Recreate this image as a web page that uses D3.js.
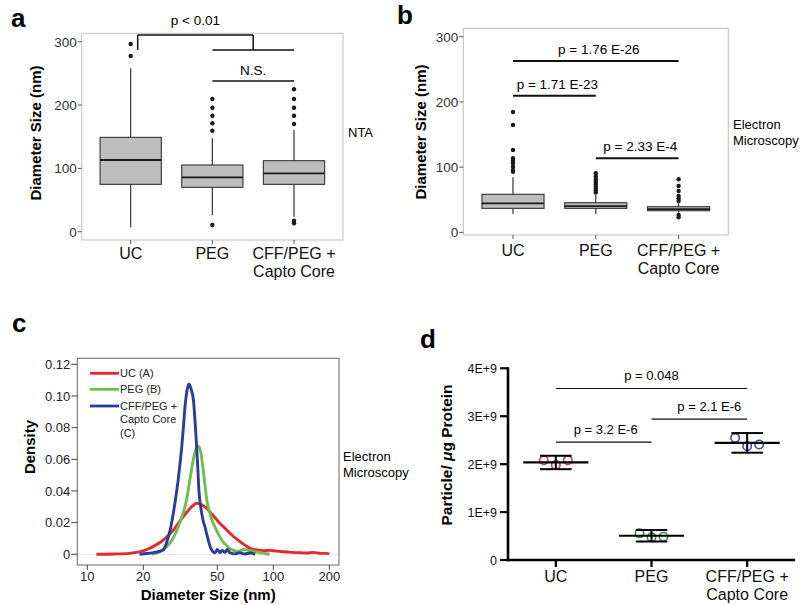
<!DOCTYPE html>
<html><head><meta charset="utf-8">
<script src="https://cdn.jsdelivr.net/npm/d3@7"></script>
<style>
body{margin:0;background:#fff}
svg{display:block;font-family:"Liberation Sans",Arial,Helvetica,sans-serif}
</style>
</head><body><svg id="fig" width="800" height="605"></svg>
<script>
// ---------------- data ----------------
const categories = ["UC", "PEG", "CFF/PEG + Capto Core"];
const categoryLines = [["UC"], ["PEG"], ["CFF/PEG +", "Capto Core"]];

// panel a (NTA) box statistics, nm
const ntaQ1 = [74.8, 70.1, 74.8];
const ntaMedian = [113.2, 85.9, 92.2];
const ntaQ3 = [149, 105.3, 112.1];
const ntaWhiskerLow = [7, 26, 23.7];
const ntaWhiskerHigh = [258, 147.5, 160.6];
const ntaOutliers = [[296.4, 277.4], [209.5, 195.8, 183.2, 171.2, 159.5, 10.6], [224.9, 209.5, 195.8, 183.2, 170, 17.4, 13.3]];
const ntaTicks = [0, 100, 200, 300];

// panel b (electron microscopy) box statistics, nm
const emQ1 = [36.8, 36.8, 33.1];
const emMedian = [44.5, 40.3, 35.7];
const emQ3 = [58.3, 45.4, 39.3];
const emWhiskerLow = [28, 28, 30];
const emWhiskerHigh = [84.4, 57.2, 44.5];
const emOutliers = [[184.5, 164.6, 126.2, 113.5, 109.8, 106, 100.6, 95.6, 93], [90.5, 86, 82, 79, 76, 73, 70, 67, 64, 61], [81.3, 71, 63.3, 55.7, 52, 48, 26.5, 23]];
const emTicks = [0, 100, 200, 300];
const emBrackets = [
  {from: 0, to: 2, y: 262.7, label: "p = 1.76 E-26"},
  {from: 0, to: 1, y: 209.5, label: "p = 1.71 E-23"},
  {from: 1, to: 2, y: 113.5, label: "p = 2.33 E-4"}
];

// panel c density curves (x in nm, log axis)
const densitySeries = ["UC (A)", "PEG (B)", "CFF/PEG + Capto Core (C)"];
const ucX = [11.2, 14, 16.9, 19, 21.7, 23.5, 25.6, 27.3, 29, 31, 32.8, 34.6, 36.4, 38.7, 41.2, 43.5, 45.6, 48.5, 51.6, 55, 58.5, 62, 66.2, 70.4, 74.9, 80, 88.4, 95, 104, 113, 125, 139.5, 152, 164, 180, 194, 200];
const ucY = [0, 0.0002, 0.0006, 0.0015, 0.0038, 0.006, 0.009, 0.012, 0.0153, 0.0198, 0.0238, 0.0272, 0.030, 0.0322, 0.0313, 0.0295, 0.0269, 0.0232, 0.0196, 0.0165, 0.0133, 0.0106, 0.008, 0.0058, 0.0038, 0.003, 0.0023, 0.0025, 0.002, 0.0016, 0.0012, 0.001, 0.0008, 0.0012, 0.0006, 0.0006, 0.0002];
const pegX = [22.2, 23.5, 24.6, 26.2, 27.8, 29.3, 30.8, 32.2, 33.5, 34.6, 35.6, 36.5, 37.4, 38.3, 39.2, 40.0, 40.7, 41.5, 42.4, 43.2, 43.9, 45.6, 47, 48.5, 50, 51.6, 53.9, 56.1, 58.5, 60.9, 63.7, 66.2, 69, 72, 74.9, 80, 84.5, 90, 95.5];
const pegY = [0, 0.0008, 0.0017, 0.004, 0.007, 0.0115, 0.0174, 0.0235, 0.030, 0.038, 0.047, 0.055, 0.0617, 0.066, 0.0684, 0.0675, 0.0648, 0.058, 0.049, 0.041, 0.0343, 0.026, 0.021, 0.0174, 0.014, 0.011, 0.0075, 0.0055, 0.0035, 0.0025, 0.002, 0.0022, 0.003, 0.0028, 0.0023, 0.0015, 0.001, 0.0005, 0];
const cffX = [19.1, 21, 23, 25.6, 26.8, 27.9, 29.0, 30.0, 30.8, 31.5, 32.2, 32.9, 33.5, 34.3, 35.2, 36.2, 37.2, 38.0, 38.7, 39.3, 39.8, 40.5, 41.2, 42.0, 42.9, 43.8, 44.7, 45.7, 46.7, 48, 49, 50, 51.7, 53, 55, 56.5, 58.5, 62, 66, 70, 75, 79.8];
const cffY = [0, 0.0005, 0.0012, 0.0027, 0.008, 0.0154, 0.026, 0.037, 0.047, 0.057, 0.068, 0.081, 0.093, 0.103, 0.1076, 0.104, 0.0975, 0.083, 0.068, 0.054, 0.0406, 0.032, 0.026, 0.021, 0.0174, 0.013, 0.009, 0.005, 0.0027, 0.001, 0.0015, 0.003, 0.001, 0.0025, 0.0012, 0.003, 0.001, 0.0003, 0.001, 0.0002, 0.0008, 0];
const densityYTicks = [0, 0.02, 0.04, 0.06, 0.08, 0.10, 0.12];
const densityXTicks = [10, 20, 50, 100, 200];

// panel d particles per ug protein
const particleReplicates = [[2.08e9, 1.98e9, 2.08e9], [0.556e9, 0.473e9, 0.485e9], [2.548e9, 2.375e9, 2.41e9]];
const particleMean = [2.035e9, 0.506e9, 2.444e9];
const particleSD = [0.14e9, 0.12e9, 0.205e9];
const particleTicks = [0, 1e9, 2e9, 3e9, 4e9];
const particleBrackets = [
  {from: 0, to: 2, y: 3.58e9, label: "p = 0.048"},
  {from: 1, to: 2, y: 2.94e9, label: "p = 2.1 E-6"},
  {from: 0, to: 1, y: 2.46e9, label: "p = 3.2 E-6"}
];

// ---------------- drawing ----------------
const svg = d3.select("#fig");
svg.append("rect").attr("width", 800).attr("height", 605).attr("fill", "#fff");

function panelLetter(t, x, y) {
  svg.append("text").attr("x", x).attr("y", y).attr("font-size", 26).attr("font-weight", "bold").text(t);
}
function rotLabel(t, x, y, size) {
  svg.append("text").attr("transform", `translate(${x},${y}) rotate(-90)`)
    .attr("text-anchor", "middle").attr("font-size", size).attr("font-weight", "bold").text(t);
}
function catLabels(xs, baseline, size) {
  categories.forEach((c, i) => {
    const t = svg.append("text").attr("x", xs(c)).attr("y", baseline).attr("text-anchor", "middle")
      .attr("font-size", size).attr("fill", "#111");
    categoryLines[i].forEach((ln, j) => t.append("tspan").attr("x", xs(c)).attr("dy", j === 0 ? 0 : 18).text(ln));
  });
}

function boxPanel(cfg) {
  const {x, y, q1, med, q3, wl, wh, out, ticks} = cfg;
  const g = svg.append("g");
  const [x0, x1] = x.range();
  const [yb, yt] = y.range();
  g.append("rect").attr("x", x0).attr("y", yt).attr("width", x1 - x0).attr("height", yb - yt)
    .attr("fill", "none").attr("stroke", "#bdbdbd").attr("stroke-width", 1);
  ticks.forEach(t => {
    g.append("line").attr("x1", x0 - 4).attr("x2", x0).attr("y1", y(t)).attr("y2", y(t)).attr("stroke", "#555");
    g.append("text").attr("x", x0 - 5).attr("y", y(t)).attr("dy", "0.36em").attr("text-anchor", "end")
      .attr("font-size", 13.5).attr("fill", "#333").text(t);
  });
  categories.forEach(c => {
    g.append("line").attr("x1", x(c)).attr("x2", x(c)).attr("y1", yb).attr("y2", yb + 4).attr("stroke", "#555");
  });
  const bw = x.step() * 0.75;
  categories.forEach((c, i) => {
    const cx = x(c);
    g.append("line").attr("x1", cx).attr("x2", cx).attr("y1", y(wl[i])).attr("y2", y(q1[i])).attr("stroke", "#333").attr("stroke-width", 1.2);
    g.append("line").attr("x1", cx).attr("x2", cx).attr("y1", y(q3[i])).attr("y2", y(wh[i])).attr("stroke", "#333").attr("stroke-width", 1.2);
    g.append("rect").attr("x", cx - bw / 2).attr("width", bw).attr("y", y(q3[i])).attr("height", y(q1[i]) - y(q3[i]))
      .attr("fill", "#bebebe").attr("stroke", "#333").attr("stroke-width", 1.1);
    g.append("line").attr("x1", cx - bw / 2).attr("x2", cx + bw / 2).attr("y1", y(med[i])).attr("y2", y(med[i]))
      .attr("stroke", "#1a1a1a").attr("stroke-width", 1.8);
    out[i].forEach(v => g.append("circle").attr("cx", cx).attr("cy", y(v)).attr("r", 2.2).attr("fill", "#1a1a1a"));
  });
  return g;
}

// ---- panel a ----
const xA = d3.scalePoint().domain(categories).range([81.7, 343]).padding(0.6);
const yA = d3.scaleLinear().domain([-13.1, 313.3]).range([240, 33.3]);
const gA = boxPanel({x: xA, y: yA, q1: ntaQ1, med: ntaMedian, q3: ntaQ3, wl: ntaWhiskerLow, wh: ntaWhiskerHigh, out: ntaOutliers, ticks: ntaTicks});
{
  const left = xA(categories[0]) + 7;
  const mid = (xA(categories[1]) + xA(categories[2])) / 2;
  const yTop = yA(310.6), yLow = yA(287), yNS = yA(238);
  const br = [[left, yLow, left, yTop], [left, yTop, mid, yTop], [mid, yTop, mid, yLow],
              [xA(categories[1]), yLow, xA(categories[2]), yLow], [xA(categories[1]), yNS, xA(categories[2]), yNS]];
  br.forEach(l => gA.append("line").attr("x1", l[0]).attr("y1", l[1]).attr("x2", l[2]).attr("y2", l[3])
    .attr("stroke", "#111").attr("stroke-width", 1.5));
  gA.append("text").attr("x", (left + mid) / 2).attr("y", yTop - 10).attr("text-anchor", "middle").attr("font-size", 13.5).text("p < 0.01");
  gA.append("text").attr("x", mid).attr("y", yNS - 6).attr("text-anchor", "middle").attr("font-size", 13.5).text("N.S.");
}
catLabels(xA, 259, 16);
rotLabel("Diameter Size (nm)", 41, 133, 15);
svg.append("text").attr("x", 348).attr("y", 137).attr("font-size", 13).text("NTA");
panelLetter("a", 11, 27);

// ---- panel b ----
const xB = d3.scalePoint().domain(categories).range([463.3, 728.3]).padding(0.6);
const yB = d3.scaleLinear().domain([-4.1, 312.9]).range([235, 28.3]);
const gB = boxPanel({x: xB, y: yB, q1: emQ1, med: emMedian, q3: emQ3, wl: emWhiskerLow, wh: emWhiskerHigh, out: emOutliers, ticks: emTicks});
emBrackets.forEach(b => {
  const xa = xB(categories[b.from]), xb = xB(categories[b.to]);
  gB.append("line").attr("x1", xa).attr("x2", xb).attr("y1", yB(b.y)).attr("y2", yB(b.y)).attr("stroke", "#111").attr("stroke-width", 2);
  gB.append("text").attr("x", (xa + xb) / 2 + 3).attr("y", yB(b.y) - 7).attr("text-anchor", "middle").attr("font-size", 13.5).text(b.label);
});
catLabels(xB, 256, 16);
rotLabel("Diameter Size (nm)", 426, 132, 15);
svg.append("text").attr("x", 733).attr("y", 129).attr("font-size", 13).text("Electron");
svg.append("text").attr("x", 733).attr("y", 145).attr("font-size", 13).text("Microscopy");
panelLetter("b", 397, 24);

// ---- panel c ----
const xC = d3.scaleLog().domain([10, 200]).range([87.3, 329.3]);
const yC = d3.scaleLinear().domain([0, 0.12]).range([554.3, 364.3]);
const frameC = {x0: 77.3, x1: 339, y0: 358.3, y1: 565};
const gC = svg.append("g");
gC.append("line").attr("x1", frameC.x0).attr("x2", frameC.x1).attr("y1", yC(0)).attr("y2", yC(0)).attr("stroke", "#e6e6e6");
gC.append("rect").attr("x", frameC.x0).attr("y", frameC.y0).attr("width", frameC.x1 - frameC.x0).attr("height", frameC.y1 - frameC.y0)
  .attr("fill", "none").attr("stroke", "#666").attr("stroke-width", 1);
densityYTicks.forEach(t => {
  gC.append("line").attr("x1", frameC.x0 - 6).attr("x2", frameC.x0).attr("y1", yC(t)).attr("y2", yC(t)).attr("stroke", "#444");
  gC.append("text").attr("x", frameC.x0 - 7).attr("y", yC(t)).attr("dy", "0.36em").attr("text-anchor", "end").attr("font-size", 13)
    .attr("fill", "#222").text(t === 0 ? "0" : d3.format(".2f")(t));
});
densityXTicks.forEach(t => {
  gC.append("line").attr("x1", xC(t)).attr("x2", xC(t)).attr("y1", frameC.y1).attr("y2", frameC.y1 + 5).attr("stroke", "#444");
  gC.append("text").attr("x", xC(t)).attr("y", 580.5).attr("text-anchor", "middle").attr("font-size", 13).attr("fill", "#222").text(t);
});
const densityColors = ["#e8262d", "#6cc04a", "#2b3d9a"];
const densityData = [[ucX, ucY], [pegX, pegY], [cffX, cffY]];
const lineGen = d3.line().x(d => xC(d[0])).y(d => yC(d[1])).curve(d3.curveMonotoneX);
densityData.forEach((s, i) => {
  const pts = s[0].map((v, k) => [v, s[1][k]]);
  gC.append("path").attr("d", lineGen(pts)).attr("fill", "none").attr("stroke", densityColors[i])
    .attr("stroke-width", 2.9).attr("stroke-linejoin", "round");
});
const legendLines = [["UC (A)"], ["PEG (B)"], ["CFF/PEG +", "Capto Core", "(C)"]];
const legendY = [373.3, 389.3, 406];
legendLines.forEach((ls, i) => {
  gC.append("line").attr("x1", 90).attr("x2", 119).attr("y1", legendY[i]).attr("y2", legendY[i]).attr("stroke", densityColors[i]).attr("stroke-width", 2.8);
  ls.forEach((t, j) => gC.append("text").attr("x", 120).attr("y", legendY[i] + j * 13.3).attr("dy", "0.36em").attr("font-size", 11).attr("fill", "#222").text(t));
});
rotLabel("Density", 35, 447, 15);
svg.append("text").attr("x", (frameC.x0 + frameC.x1) / 2).attr("y", 600).attr("text-anchor", "middle")
  .attr("font-size", 15).attr("font-weight", "bold").text("Diameter Size (nm)");
svg.append("text").attr("x", 343).attr("y", 461).attr("font-size", 13).text("Electron");
svg.append("text").attr("x", 343).attr("y", 477).attr("font-size", 13).text("Microscopy");
panelLetter("c", 12, 332);

// ---- panel d ----
const xD = d3.scalePoint().domain(categories).range([508, 795]).padding(0.5);
const yD = d3.scaleLinear().domain([0, 4e9]).range([560, 368.3]);
const gD = svg.append("g");
gD.append("line").attr("x1", 508).attr("x2", 508).attr("y1", yD(4e9) - 1).attr("y2", yD(0) + 1.2).attr("stroke", "#000").attr("stroke-width", 2.6);
gD.append("line").attr("x1", 506.7).attr("x2", 795).attr("y1", yD(0)).attr("y2", yD(0)).attr("stroke", "#000").attr("stroke-width", 2.6);
particleTicks.forEach(t => {
  gD.append("line").attr("x1", 500).attr("x2", 508).attr("y1", yD(t)).attr("y2", yD(t)).attr("stroke", "#000").attr("stroke-width", 2.2);
  gD.append("text").attr("x", 497).attr("y", yD(t)).attr("dy", "0.36em").attr("text-anchor", "end").attr("font-size", 12.5)
    .attr("fill", "#111").text(t === 0 ? "0" : (t / 1e9) + "E+9");
});
categories.forEach(c => gD.append("line").attr("x1", xD(c)).attr("x2", xD(c)).attr("y1", yD(0)).attr("y2", yD(0) + 7).attr("stroke", "#000").attr("stroke-width", 2.2));
const repColors = ["#d43a48", "#3c8c3c", "#3c4c98"];
const jitter = [-12, 0, 12];
categories.forEach((c, i) => {
  const cx = xD(c), st = xD.step();
  const m = particleMean[i], s = particleSD[i];
  particleReplicates[i].forEach((v, k) => gD.append("circle").attr("cx", cx + jitter[k]).attr("cy", yD(v)).attr("r", 4.2)
    .attr("fill", "none").attr("stroke", repColors[i]).attr("stroke-width", 1.6));
  gD.append("line").attr("x1", cx - st * 0.34).attr("x2", cx + st * 0.34).attr("y1", yD(m)).attr("y2", yD(m)).attr("stroke", "#000").attr("stroke-width", 2.2);
  gD.append("line").attr("x1", cx).attr("x2", cx).attr("y1", yD(m - s)).attr("y2", yD(m + s)).attr("stroke", "#000").attr("stroke-width", 2);
  [m - s, m + s].forEach(v => gD.append("line").attr("x1", cx - st * 0.165).attr("x2", cx + st * 0.165).attr("y1", yD(v)).attr("y2", yD(v)).attr("stroke", "#000").attr("stroke-width", 2));
});
const bracketDx = [0, 10, 2];
particleBrackets.forEach((b, i) => {
  const xa = xD(categories[b.from]), xb = xD(categories[b.to]);
  gD.append("line").attr("x1", xa).attr("x2", xb).attr("y1", yD(b.y)).attr("y2", yD(b.y)).attr("stroke", "#111").attr("stroke-width", 1.1);
  gD.append("text").attr("x", (xa + xb) / 2 + bracketDx[i]).attr("y", yD(b.y) - 8).attr("text-anchor", "middle").attr("font-size", 13).text(b.label);
});
catLabels(xD, 582, 16);
{
  const t = svg.append("text").attr("transform", "translate(452,455) rotate(-90)").attr("text-anchor", "middle")
    .attr("font-size", 15.5).attr("font-weight", "bold");
  t.append("tspan").text("Particle/ ");
  t.append("tspan").attr("font-style", "italic").text("μ");
  t.append("tspan").text("g Protein");
}
panelLetter("d", 420, 348);
</script>
</body></html>
